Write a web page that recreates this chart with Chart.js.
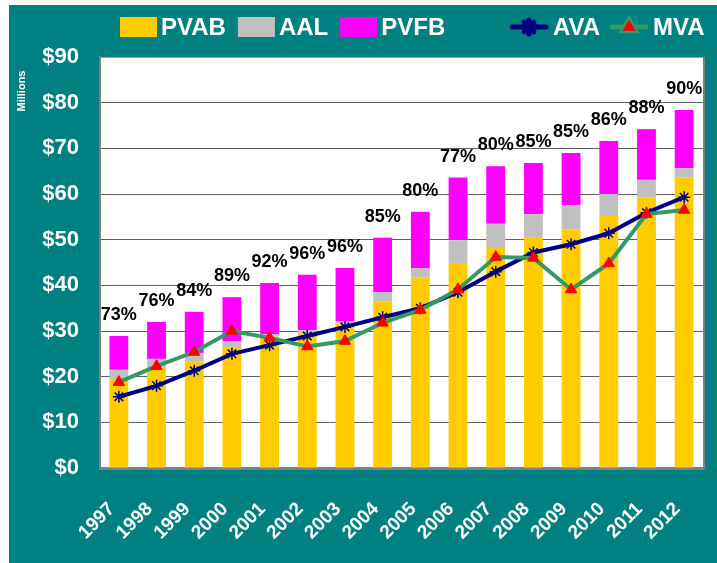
<!DOCTYPE html>
<html>
<head>
<meta charset="utf-8">
<script src="https://cdn.jsdelivr.net/npm/chart.js@4"></script>
<style>
    html, body { margin: 0; padding: 0; background: #ffffff; }
    canvas { display: block; }
</style>
</head>
<body>
<canvas id="fundChart" width="717" height="563"></canvas>
<script>
const years = ['1997', '1998', '1999', '2000', '2001', '2002', '2003', '2004', '2005', '2006', '2007', '2008', '2009', '2010', '2011', '2012'];
const pvab = [19.5, 22.0, 23.3, 26.3, 28.8, 29.5, 31.6, 36.4, 41.7, 44.9, 48.4, 50.6, 52.3, 55.4, 59.3, 63.6];
const aal = [21.5, 23.9, 25.2, 27.8, 29.3, 30.2, 32.1, 38.5, 43.8, 49.9, 53.5, 55.6, 57.6, 60.0, 63.1, 65.7];
const pvfb = [28.9, 32.0, 34.2, 37.4, 40.5, 42.3, 43.8, 50.4, 56.1, 63.6, 66.1, 66.8, 69.0, 71.6, 74.2, 78.4];
const ava = [15.6, 18.0, 21.3, 25.0, 26.9, 28.9, 30.9, 33.0, 35.0, 38.5, 43.0, 47.2, 49.0, 51.4, 55.9, 59.3];
const mva = [18.8, 22.3, 25.4, 30.0, 28.5, 26.6, 27.8, 31.8, 34.6, 39.1, 46.2, 46.0, 39.1, 44.8, 55.6, 56.5];
const fundedRatio = ['73%', '76%', '84%', '89%', '92%', '96%', '96%', '85%', '80%', '77%', '80%', '85%', '85%', '86%', '88%', '90%'];
const yTicks = [0, 10, 20, 30, 40, 50, 60, 70, 80, 90];

const TEAL = '#008080';
const FONT = '"Liberation Sans", Arial, sans-serif';

// bar segments are stacked, so the upper pieces are the differences
const aalPart = aal.map((v, i) => +(v - pvab[i]).toFixed(2));
const pvfbPart = pvfb.map((v, i) => +(v - aal[i]).toFixed(2));

const backgroundPlugin = {
    id: 'background',
    beforeDraw(chart) {
        const ctx = chart.ctx;
        const a = chart.chartArea;
        ctx.save();
        ctx.fillStyle = TEAL;
        ctx.fillRect(9, 5, chart.width - 9, chart.height - 5);
        ctx.fillStyle = '#ffffff';
        ctx.fillRect(a.left, a.top, a.right - a.left, a.bottom - a.top);
        ctx.restore();
    },
    afterDraw(chart) {
        const ctx = chart.ctx;
        const a = chart.chartArea;
        ctx.save();
        ctx.strokeStyle = '#a0a0a0';
        ctx.lineWidth = 1;
        ctx.beginPath();
        ctx.moveTo(a.left, a.top + 0.5);
        ctx.lineTo(a.right + 0.5, a.top + 0.5);
        ctx.stroke();
        ctx.strokeStyle = '#808080';
        ctx.lineWidth = 2;
        ctx.beginPath();
        ctx.moveTo(a.right + 1, a.top);
        ctx.lineTo(a.right + 1, a.bottom + 1);
        ctx.stroke();

        // axis caption
        ctx.fillStyle = '#ffffff';
        ctx.font = 'bold 11px ' + FONT;
        ctx.textAlign = 'center';
        ctx.textBaseline = 'middle';
        ctx.translate(22, 91);
        ctx.rotate(-Math.PI / 2);
        ctx.fillText('Millions', 0, 0);
        ctx.restore();
    }
};

const ratioLabelPlugin = {
    id: 'ratioLabels',
    afterDatasetsDraw(chart) {
        const ctx = chart.ctx;
        const x = chart.scales.x;
        const y = chart.scales.y;
        ctx.save();
        ctx.fillStyle = '#000000';
        ctx.font = 'bold 18px ' + FONT;
        ctx.textAlign = 'center';
        ctx.textBaseline = 'middle';
        fundedRatio.forEach((label, i) => {
            ctx.fillText(label, x.getPixelForValue(i), y.getPixelForValue(pvfb[i]) - 21);
        });
        ctx.restore();
    }
};

const legendPlugin = {
    id: 'customLegend',
    afterDraw(chart) {
        const ctx = chart.ctx;
        const cy = 27;
        ctx.save();
        ctx.font = 'bold 24px ' + FONT;
        ctx.textBaseline = 'middle';
        ctx.textAlign = 'left';

        let px = 120;
        const boxes = chart.data.datasets.filter(d => d.type !== 'line');
        boxes.forEach(d => {
            ctx.fillStyle = d.backgroundColor;
            ctx.fillRect(px, cy - 10, 37, 20);
            ctx.fillStyle = '#ffffff';
            ctx.fillText(d.label, px + 41, cy + 1);
            px += 41 + ctx.measureText(d.label).width + 12;
        });

        px = 510;
        const lines = chart.data.datasets.filter(d => d.type === 'line').reverse();
        lines.forEach(d => {
            ctx.strokeStyle = d.borderColor;
            ctx.lineWidth = 5;
            ctx.lineCap = 'round';
            ctx.beginPath();
            ctx.moveTo(px + 2, cy);
            ctx.lineTo(px + 36, cy);
            ctx.stroke();
            Chart.helpers.drawPoint(ctx, {
                pointStyle: d.pointStyle,
                radius: d.pointRadius + 1,
                borderWidth: d.pointBorderWidth,
                rotation: 0
            }, px + 19, cy);
            if (d.pointStyle === 'star') {
                ctx.strokeStyle = d.pointBorderColor;
                ctx.lineWidth = d.pointBorderWidth;
                ctx.stroke();
            } else {
                ctx.fillStyle = d.pointBackgroundColor;
                ctx.fill();
            }
            ctx.fillStyle = '#ffffff';
            ctx.fillText(d.label, px + 43, cy + 1);
            px += 43 + ctx.measureText(d.label).width + 10;
        });
        ctx.restore();
    }
};

new Chart(document.getElementById('fundChart'), {
    type: 'bar',
    data: {
        labels: years,
        datasets: [
            {
                type: 'line',
                label: 'MVA',
                data: mva,
                stack: 'mva',
                order: 0,
                borderColor: '#339966',
                borderWidth: 4,
                pointStyle: 'triangle',
                pointRadius: 6.5,
                pointBackgroundColor: '#ff0000',
                pointBorderColor: '#ff0000',
                pointBorderWidth: 1,
                tension: 0
            },
            {
                type: 'line',
                label: 'AVA',
                data: ava,
                stack: 'ava',
                order: 1,
                borderColor: '#000080',
                borderWidth: 4,
                pointStyle: 'star',
                pointRadius: 6,
                pointBackgroundColor: '#000080',
                pointBorderColor: '#000080',
                pointBorderWidth: 1.5,
                tension: 0
            },
            {
                label: 'PVAB',
                data: pvab,
                stack: 'bars',
                order: 2,
                backgroundColor: '#ffcc00'
            },
            {
                label: 'AAL',
                data: aalPart,
                stack: 'bars',
                order: 2,
                backgroundColor: '#c0c0c0'
            },
            {
                label: 'PVFB',
                data: pvfbPart,
                stack: 'bars',
                order: 2,
                backgroundColor: '#ff00ff'
            }
        ]
    },
    options: {
        responsive: false,
        animation: false,
        devicePixelRatio: 1,
        layout: { padding: { left: 0, right: 14, top: 57, bottom: 0 } },
        datasets: {
            bar: { categoryPercentage: 1.0, barPercentage: 0.5 }
        },
        plugins: {
            legend: { display: false },
            tooltip: { enabled: false }
        },
        scales: {
            x: {
                stacked: true,
                grid: { display: false, drawTicks: false },
                border: { color: '#808080', width: 3 },
                ticks: {
                    color: '#ffffff',
                    font: { family: FONT, size: 19, weight: 'bold' },
                    minRotation: 45,
                    maxRotation: 45,
                    autoSkip: false,
                    padding: 30,
                    labelOffset: -7
                },
                afterFit(scale) {
                    scale.height = 95;
                    scale.paddingLeft = 0;
                    scale.paddingRight = 0;
                }
            },
            y: {
                stacked: true,
                min: 0,
                max: 90,
                grid: { color: '#606060', lineWidth: 1, drawTicks: false },
                border: { color: '#808080', width: 2 },
                afterBuildTicks(scale) {
                    scale.ticks = yTicks.map(v => ({ value: v }));
                },
                ticks: {
                    color: '#ffffff',
                    font: { family: FONT, size: 22, weight: 'bold' },
                    padding: 21,
                    callback: v => '$' + v
                },
                afterFit(scale) {
                    scale.width = 100;
                    scale.paddingTop = 0;
                    scale.paddingBottom = 0;
                }
            }
        }
    },
    plugins: [backgroundPlugin, ratioLabelPlugin, legendPlugin]
});
</script>
</body>
</html>
